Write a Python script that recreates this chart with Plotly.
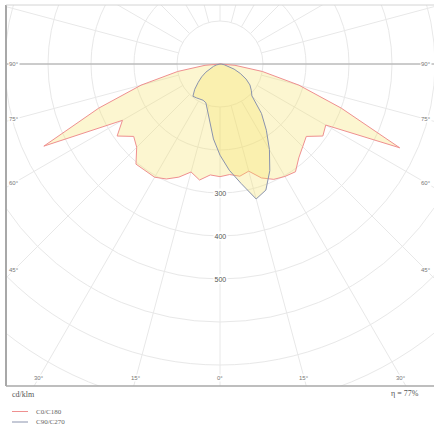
import numpy as np
import plotly.graph_objects as go

# ---------------- data (cd/klm) ----------------
gamma = [0, 5, 10, 15, 20, 25, 30, 35, 40, 45, 50, 55, 60, 65, 70, 75, 80, 85, 90]
c0_right = [262, 258, 265, 258, 282, 296, 302, 306, 285, 272, 262, 292, 284, 461, 300, 190, 100, 35, 0]
c180_left = [262, 259, 274, 260, 280, 295, 304, 303, 304, 274, 262, 292, 262, 452, 300, 190, 100, 35, 0]
c90_right = [212, 248, 282, 325, 312, 274, 230, 188, 150, 105, 95, 85, 70, 52, 35, 20, 10, 4, 0]
c270_left = [212, 175, 136, 112, 96, 93, 94, 96, 98, 83, 66, 52, 38, 26, 16, 9, 4, 2, 0]

ring_values = [100, 200, 300, 400, 500, 600, 700, 800, 900, 1000]
spoke_angles = list(range(0, 360, 15))
side_label_angles = [90, 75, 60, 45]
bottom_label_angles = [30, 15, 0]
ring_label_values = [300, 400, 500]
unit_label = "cd/klm"
eta_label = "η = 77%"
series_names = ["C0/C180", "C90/C270"]

# ---------------- geometry helpers ----------------
W, H = 434, 429
ML, MR, MT, MB = 6, 0, 5, 43
CX, CY = 220, 64          # pixel position of the diagram centre
PX = 100 / 43.0           # cd/klm per pixel
x_range = [-(CX - ML) * PX, (W - MR - CX) * PX]
y_range = [-(H - MB - CY) * PX, (CY - MT) * PX]


def polar_xy(left_vals, right_vals):
    g = np.radians(np.array(gamma, dtype=float))
    lv = np.array(left_vals, dtype=float)
    rv = np.array(right_vals, dtype=float)
    xl = -lv * np.sin(g)
    yl = -lv * np.cos(g)
    xr = rv * np.sin(g)
    yr = -rv * np.cos(g)
    x = np.concatenate([xl[::-1], xr[1:]])
    y = np.concatenate([yl[::-1], yr[1:]])
    return x, y


def paper_x(px):
    return (px - ML) / (W - ML - MR)


def paper_y(py):
    return (H - MB - py) / (H - MB - MT)


GRID = "#e8e8e8"
RED = "#ef9090"
BLUE = "#8a93ad"
FILL = "rgba(245,225,100,0.30)"
LABEL_FONT = dict(family="Liberation Sans, Arial, sans-serif", size=6, color="#777777")

fig = go.Figure()

x0, y0 = polar_xy(c180_left, c0_right)
fig.add_trace(go.Scatter(x=x0, y=y0, mode="lines", fill="toself", fillcolor=FILL,
                         line=dict(color=RED, width=1), name=series_names[0],
                         showlegend=False, hoverinfo="skip"))
x1, y1 = polar_xy(c270_left, c90_right)
fig.add_trace(go.Scatter(x=x1, y=y1, mode="lines", fill="toself", fillcolor=FILL,
                         line=dict(color=BLUE, width=1), name=series_names[1],
                         showlegend=False, hoverinfo="skip"))

shapes = []
# rings
for r in ring_values:
    shapes.append(dict(type="circle", xref="x", yref="y", x0=-r, x1=r, y0=-r, y1=r,
                       line=dict(color=GRID, width=1), layer="below"))
# spokes
rmin, rmax = ring_values[0], ring_values[-1] * 1.5
for a in spoke_angles:
    t = np.radians(a)
    shapes.append(dict(type="line", xref="x", yref="y",
                       x0=rmin * np.sin(t), y0=-rmin * np.cos(t),
                       x1=rmax * np.sin(t), y1=-rmax * np.cos(t),
                       line=dict(color=GRID, width=1), layer="below"))
# 90 degree axis line
shapes.append(dict(type="line", xref="x", yref="y", x0=x_range[0], x1=x_range[1], y0=0, y1=0,
                   line=dict(color="#a4a4a4", width=1), layer="below"))
# frame
shapes.append(dict(type="line", xref="paper", yref="paper", x0=0, x1=0, y0=0, y1=1,
                   line=dict(color="#a8a8a8", width=2)))
shapes.append(dict(type="line", xref="paper", yref="paper", x0=0, x1=1, y0=0, y1=0,
                   line=dict(color="#a8a8a8", width=1.5)))
shapes.append(dict(type="line", xref="paper", yref="paper", x0=0, x1=1, y0=1, y1=1,
                   line=dict(color="#d4d4d4", width=1)))
# legend swatches
for name, col, py in [(series_names[0], RED, 411.5), (series_names[1], BLUE, 422)]:
    shapes.append(dict(type="line", xref="paper", yref="paper",
                       x0=paper_x(12), x1=paper_x(28), y0=paper_y(py), y1=paper_y(py),
                       line=dict(color=col, width=1)))

annotations = []
# side labels
side_px = 14
for a in side_label_angles:
    t = np.radians(a)
    dx = (CX - side_px) * PX
    yv = -dx / np.tan(t) if a != 90 else 0.0
    for s in (-1, 1):
        annotations.append(dict(x=s * dx, y=yv, xref="x", yref="y", text=f"{a}°",
                                showarrow=False, font=LABEL_FONT, bgcolor="white",
                                borderpad=0, xanchor="center", yanchor="middle"))
# bottom labels
bot_py = 378
dy = (bot_py - CY) * PX
for a in bottom_label_angles:
    t = np.radians(a)
    xs = [dy * np.tan(t)] if a == 0 else [-dy * np.tan(t), dy * np.tan(t)]
    for xv in xs:
        annotations.append(dict(x=xv, y=-dy, xref="x", yref="y", text=f"{a}°",
                                showarrow=False, font=LABEL_FONT, bgcolor="white",
                                borderpad=0, xanchor="center", yanchor="middle"))
# ring labels
for r in ring_label_values:
    annotations.append(dict(x=0, y=-r, xref="x", yref="y", text=str(r), showarrow=False,
                            font=dict(family="Liberation Sans, Arial, sans-serif", size=7, color="#555555"),
                            bgcolor="white", borderpad=0.5, xanchor="center", yanchor="middle"))
# unit and efficiency
annotations.append(dict(x=paper_x(10), y=paper_y(394), xref="paper", yref="paper", text=unit_label,
                        showarrow=False, xanchor="left", yanchor="middle",
                        font=dict(family="Liberation Serif, Times New Roman, serif", size=8, color="#555555")))
annotations.append(dict(x=paper_x(421), y=paper_y(393.5), xref="paper", yref="paper", text=eta_label,
                        showarrow=False, xanchor="right", yanchor="middle",
                        font=dict(family="Liberation Serif, Times New Roman, serif", size=8, color="#555555")))
# legend texts
for name, py in [(series_names[0], 411.5), (series_names[1], 422)]:
    annotations.append(dict(x=paper_x(34), y=paper_y(py), xref="paper", yref="paper", text=name,
                            showarrow=False, xanchor="left", yanchor="middle",
                            font=dict(family="Liberation Serif, Times New Roman, serif", size=7, color="#666666")))

fig.update_layout(
    width=W, height=H,
    margin=dict(l=ML, r=MR, t=MT, b=MB, pad=0),
    paper_bgcolor="white", plot_bgcolor="white",
    showlegend=False,
    shapes=shapes, annotations=annotations,
    xaxis=dict(range=x_range, visible=False, showgrid=False, zeroline=False, fixedrange=True),
    yaxis=dict(range=y_range, visible=False, showgrid=False, zeroline=False, fixedrange=True),
)

fig.write_html("out.html", config={"displayModeBar": False},
               post_script="document.body.style.margin='0';document.body.style.overflow='hidden';")
